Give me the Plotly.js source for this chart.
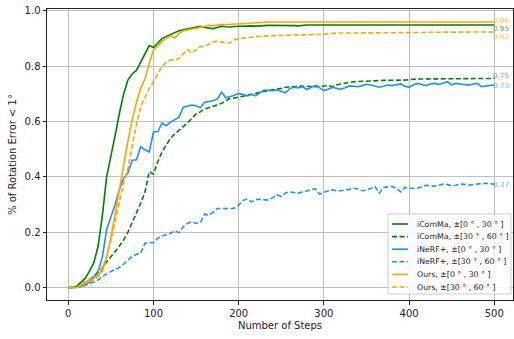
<!DOCTYPE html>
<html>
<head>
<meta charset="utf-8">
<script src="https://cdn.plot.ly/plotly-3.0.1.min.js"></script>
<style>html,body{margin:0;padding:0;background:#fff;}#chart{width:514px;height:339px;}</style>
</head>
<body>
<div id="chart"></div>
<script>
// Steps sampled every 5
const steps = [];
for (let s = 0; s <= 500; s += 5) steps.push(s);

const icommaNear = [0,0,0.005,0.02,0.034,0.06,0.09,0.15,0.26,0.40,0.47,0.55,0.63,0.70,0.75,0.772,0.785,0.815,0.85,0.875,
0.868,0.885,0.90,0.908,0.915,0.922,0.928,0.932,0.935,0.94,0.942,0.944,0.94,0.937,0.936,0.94,0.945,0.943,0.942,0.944,
0.945,0.944,0.946,0.946,0.945,0.947,0.947,0.948,0.948,0.948,0.948,0.949,0.948,0.947,0.946,0.948,0.949,0.949,0.949,0.949,
0.949,0.949,0.949,0.949,0.949,0.949,0.949,0.949,0.949,0.949,0.949,0.949,0.949,0.949,0.949,0.949,0.949,0.949,0.949,0.949,
0.949,0.949,0.949,0.949,0.949,0.949,0.949,0.949,0.949,0.949,0.949,0.949,0.949,0.949,0.949,0.949,0.949,0.949,0.949,0.949,0.949];

const icommaFar = [0,0,0.002,0.01,0.02,0.03,0.04,0.055,0.07,0.093,0.11,0.13,0.15,0.172,0.2,0.232,0.27,0.305,0.345,0.419,
0.41,0.455,0.49,0.515,0.54,0.555,0.567,0.582,0.595,0.61,0.628,0.635,0.646,0.65,0.656,0.66,0.666,0.675,0.684,0.685,
0.688,0.692,0.696,0.699,0.702,0.706,0.71,0.712,0.715,0.717,0.72,0.724,0.724,0.726,0.729,0.728,0.727,0.725,0.726,0.727,
0.728,0.73,0.726,0.733,0.736,0.74,0.742,0.744,0.745,0.746,0.747,0.747,0.748,0.748,0.749,0.749,0.75,0.75,0.75,0.75,
0.752,0.753,0.754,0.754,0.754,0.755,0.755,0.755,0.755,0.755,0.756,0.756,0.756,0.756,0.756,0.756,0.756,0.756,0.756,0.756,0.756];

const inerfNear = [0,0,0,0.005,0.012,0.02,0.04,0.06,0.11,0.21,0.255,0.30,0.355,0.395,0.415,0.46,0.462,0.509,0.498,0.49,
0.563,0.563,0.594,0.585,0.598,0.608,0.616,0.652,0.656,0.66,0.657,0.65,0.67,0.672,0.675,0.682,0.706,0.686,0.69,0.695,
0.702,0.698,0.693,0.698,0.693,0.705,0.714,0.713,0.712,0.715,0.71,0.704,0.72,0.724,0.722,0.726,0.716,0.725,0.731,0.722,
0.712,0.717,0.724,0.72,0.717,0.722,0.729,0.728,0.726,0.73,0.735,0.732,0.728,0.724,0.728,0.732,0.73,0.734,0.736,0.728,
0.724,0.733,0.738,0.734,0.73,0.736,0.738,0.734,0.74,0.744,0.733,0.738,0.736,0.733,0.732,0.736,0.738,0.726,0.729,0.731,0.732];

const inerfFar = [0,0,0,0.002,0.008,0.015,0.02,0.027,0.04,0.05,0.058,0.065,0.073,0.085,0.10,0.113,0.12,0.124,0.16,0.163,
0.162,0.178,0.186,0.192,0.196,0.205,0.198,0.22,0.232,0.238,0.232,0.235,0.265,0.262,0.272,0.286,0.285,0.286,0.285,0.287,
0.298,0.315,0.32,0.31,0.318,0.319,0.318,0.316,0.325,0.335,0.33,0.342,0.346,0.343,0.341,0.346,0.349,0.355,0.357,0.338,
0.345,0.35,0.353,0.35,0.35,0.352,0.355,0.359,0.356,0.35,0.352,0.358,0.365,0.341,0.362,0.364,0.365,0.36,0.346,0.362,
0.36,0.358,0.359,0.365,0.37,0.368,0.366,0.37,0.374,0.372,0.368,0.37,0.374,0.373,0.37,0.372,0.375,0.376,0.377,0.375,0.374];

const oursNear = [0,0,0,0.01,0.02,0.03,0.034,0.045,0.06,0.11,0.18,0.27,0.36,0.45,0.53,0.606,0.67,0.72,0.755,0.81,
0.86,0.872,0.89,0.90,0.91,0.902,0.918,0.928,0.932,0.935,0.937,0.94,0.945,0.948,0.946,0.95,0.952,0.95,0.952,0.953,
0.953,0.954,0.955,0.956,0.958,0.96,0.96,0.96,0.96,0.96,0.96,0.96,0.96,0.96,0.96,0.96,0.96,0.96,0.96,0.96,
0.96,0.96,0.96,0.96,0.96,0.96,0.96,0.96,0.96,0.96,0.96,0.96,0.96,0.96,0.96,0.96,0.96,0.96,0.96,0.96,
0.96,0.96,0.96,0.96,0.96,0.96,0.96,0.96,0.96,0.96,0.96,0.96,0.96,0.96,0.96,0.96,0.96,0.96,0.96,0.96,0.96];

const oursFar = [0,0,0,0.005,0.015,0.02,0.03,0.04,0.07,0.11,0.17,0.235,0.31,0.38,0.43,0.51,0.59,0.655,0.685,0.72,
0.744,0.775,0.80,0.815,0.823,0.823,0.828,0.845,0.86,0.848,0.86,0.871,0.872,0.88,0.888,0.891,0.888,0.884,0.885,0.895,
0.90,0.901,0.903,0.905,0.907,0.907,0.909,0.91,0.91,0.91,0.911,0.912,0.912,0.913,0.913,0.914,0.914,0.915,0.915,0.915,
0.916,0.918,0.919,0.92,0.92,0.92,0.92,0.92,0.92,0.921,0.921,0.921,0.921,0.921,0.921,0.922,0.922,0.922,0.922,0.922,
0.922,0.922,0.922,0.922,0.923,0.923,0.923,0.923,0.923,0.923,0.923,0.923,0.923,0.924,0.924,0.924,0.924,0.924,0.924,0.924,0.924];

const seriesNames = ['iComMa, ±[0 ° , 30 ° ]', 'iComMa, ±[30 ° , 60 ° ]', 'iNeRF+, ±[0 ° , 30 ° ]',
                     'iNeRF+, ±[30 ° , 60 ° ]', 'Ours, ±[0 ° , 30 ° ]', 'Ours, ±[30 ° , 60 ° ]'];
const finalLabels = ['0.95', '0.75', '0.73', '0.37', '0.96', '0.92'];

const GREEN = '#008000', BLUE = '#1e90ff', ORANGE = '#ffa500';
const DASH = '5px,2.5px';
const styles = [
  {color: GREEN, dash: 'solid', ly: 0.938, lc: 'rgba(0,128,0,0.72)'},
  {color: GREEN, dash: DASH, ly: 0.765, lc: 'rgba(0,128,0,0.65)'},
  {color: BLUE, dash: 'solid', ly: 0.729, lc: 'rgba(30,144,255,0.75)'},
  {color: BLUE, dash: DASH, ly: 0.371, lc: 'rgba(30,144,255,0.75)'},
  {color: ORANGE, dash: 'solid', ly: 0.967, lc: 'rgba(255,165,0,0.75)'},
  {color: ORANGE, dash: DASH, ly: 0.906, lc: 'rgba(255,165,0,0.75)'}
];
const values = [icommaNear, icommaFar, inerfNear, inerfFar, oursNear, oursFar];

const traces = values.map((v, i) => ({
  x: steps, y: v, type: 'scatter', mode: 'lines', name: seriesNames[i],
  line: {color: styles[i].color, width: 1.6, dash: styles[i].dash}, showlegend: false
}));

// plot area pixel geometry (for custom, compact matplotlib-like legend)
const L = 47, R = 513, T = 9, B = 300;
const px = x => (x - L) / (R - L);
const py = y => (B - y) / (B - T);

const annotations = values.map((v, i) => ({
  x: 500, y: styles[i].ly, xref: 'x', yref: 'y', text: finalLabels[i], showarrow: false,
  xanchor: 'left', yanchor: 'middle', xshift: -3,
  font: {family: 'DejaVu Sans', size: 7.2, color: styles[i].lc}
}));

const shapes = [{
  type: 'rect', xref: 'paper', yref: 'paper',
  x0: px(388), x1: px(511), y0: py(294), y1: py(214),
  fillcolor: 'rgba(255,255,255,0.85)', line: {color: '#cccccc', width: 1}, layer: 'above'
}];
seriesNames.forEach((n, i) => {
  const yy = 224 + i * 12.6;
  shapes.push({
    type: 'line', xref: 'paper', yref: 'paper', x0: px(392), x1: px(408), y0: py(yy), y1: py(yy),
    line: {color: styles[i].color, width: 1.6, dash: styles[i].dash}, layer: 'above'
  });
  annotations.push({
    x: px(415), y: py(yy), xref: 'paper', yref: 'paper', text: n, showarrow: false,
    xanchor: 'left', yanchor: 'middle', font: {family: 'DejaVu Sans', size: 7.8, color: '#222'}
  });
});

const layout = {
  width: 514, height: 339,
  margin: {l: L, r: 514 - R, t: T, b: 339 - B},
  paper_bgcolor: '#fff', plot_bgcolor: '#fff',
  font: {family: 'DejaVu Sans', size: 10, color: '#222'},
  xaxis: {
    range: [-25, 522], tickvals: [0,100,200,300,400,500],
    showgrid: true, gridcolor: '#b0b0b0', gridwidth: 0.8, zeroline: false,
    showline: true, linecolor: '#222', linewidth: 1, mirror: true,
    ticks: 'outside', ticklen: 3.5, tickcolor: '#222',
    tickfont: {size: 10},
    title: {text: 'Number of Steps', font: {size: 10}, standoff: 4}
  },
  yaxis: {
    range: [-0.045, 1.007], tickvals: [0,0.2,0.4,0.6,0.8,1.0], tickformat: '.1f',
    showgrid: true, gridcolor: '#b0b0b0', gridwidth: 0.8, zeroline: false,
    showline: true, linecolor: '#222', linewidth: 1, mirror: true,
    ticks: 'outside', ticklen: 3.5, tickcolor: '#222',
    tickfont: {size: 10},
    title: {text: '% of Rotation Error &lt; 1°', font: {size: 10}, standoff: 6}
  },
  shapes: shapes,
  annotations: annotations,
  showlegend: false
};

Plotly.newPlot('chart', traces, layout, {displayModeBar: false, staticPlot: true});
</script>
</body>
</html>
